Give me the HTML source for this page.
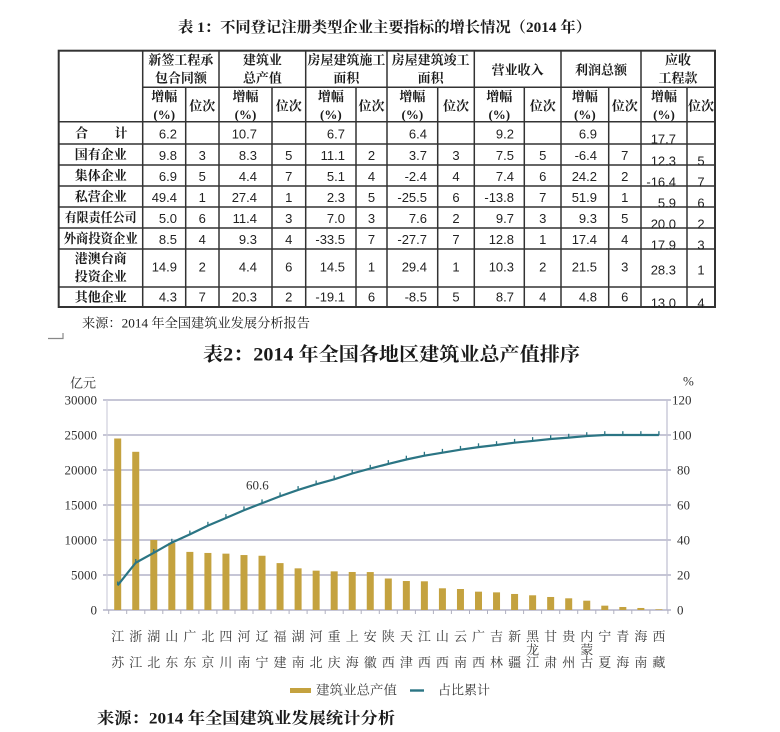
<!DOCTYPE html>
<html><head><meta charset="utf-8"><style>
html,body{margin:0;padding:0;background:#fff;}
svg{display:block;}
.h{font-family:"Liberation Serif","Noto Serif CJK SC",serif;font-weight:700;font-size:13px;fill:#1a1a1a;}
.d{font-family:"Liberation Sans","Noto Sans CJK SC",sans-serif;font-size:13px;fill:#222;}
.t{font-family:"Liberation Serif","Noto Serif CJK SC",serif;font-weight:700;fill:#1a1a1a;}
.ax{font-family:"Liberation Serif","Noto Serif CJK SC",serif;font-size:13px;fill:#333;}
.xl{font-family:"Liberation Serif","Noto Serif CJK SC",serif;font-size:13px;fill:#3a3a3a;}
</style></head><body>
<svg width="780" height="732" viewBox="0 0 780 732" xmlns="http://www.w3.org/2000/svg">
<rect width="780" height="732" fill="#fff"/>
<text class="t" x="178" y="28" font-size="15" dominant-baseline="central" textLength="413" lengthAdjust="spacingAndGlyphs">表 1：不同登记注册类型企业主要指标的增长情况（2014 年）</text>
<g stroke="#333" stroke-width="1.5" fill="none">
<rect x="58.7" y="50.7" width="656.3" height="256.3" stroke-width="2"/>
<line x1="142.7" y1="87.3" x2="715" y2="87.3"/>
<line x1="58.7" y1="121.7" x2="715" y2="121.7"/>
<line x1="58.7" y1="144" x2="715" y2="144"/>
<line x1="58.7" y1="165" x2="715" y2="165"/>
<line x1="58.7" y1="186" x2="715" y2="186"/>
<line x1="58.7" y1="207" x2="715" y2="207"/>
<line x1="58.7" y1="228" x2="715" y2="228"/>
<line x1="58.7" y1="249" x2="715" y2="249"/>
<line x1="58.7" y1="287" x2="715" y2="287"/>
<line x1="142.7" y1="50.7" x2="142.7" y2="307"/>
<line x1="219" y1="50.7" x2="219" y2="307"/>
<line x1="305.7" y1="50.7" x2="305.7" y2="307"/>
<line x1="387" y1="50.7" x2="387" y2="307"/>
<line x1="474.3" y1="50.7" x2="474.3" y2="307"/>
<line x1="561" y1="50.7" x2="561" y2="307"/>
<line x1="641" y1="50.7" x2="641" y2="307"/>
<line x1="185.7" y1="87.3" x2="185.7" y2="307"/>
<line x1="272" y1="87.3" x2="272" y2="307"/>
<line x1="356" y1="87.3" x2="356" y2="307"/>
<line x1="437.7" y1="87.3" x2="437.7" y2="307"/>
<line x1="524.3" y1="87.3" x2="524.3" y2="307"/>
<line x1="608.7" y1="87.3" x2="608.7" y2="307"/>
<line x1="687" y1="87.3" x2="687" y2="307"/>
</g>
<g class="h" text-anchor="middle" dominant-baseline="central">
<text x="180.85" y="60">新签工程承</text><text x="180.85" y="78">包合同额</text>
<text x="262.35" y="60">建筑业</text><text x="262.35" y="78">总产值</text>
<text x="346.35" y="60">房屋建筑施工</text><text x="346.35" y="78">面积</text>
<text x="430.65" y="60">房屋建筑竣工</text><text x="430.65" y="78">面积</text>
<text x="517.65" y="70">营业收入</text>
<text x="601" y="70">利润总额</text>
<text x="678" y="60">应收</text><text x="678" y="78">工程款</text>
<text x="164.2" y="96.7">增幅</text><text x="164.2" y="114.3">(%)</text><text x="202.3" y="106">位次</text>
<text x="245.5" y="96.7">增幅</text><text x="245.5" y="114.3">(%)</text><text x="288.8" y="106">位次</text>
<text x="330.85" y="96.7">增幅</text><text x="330.85" y="114.3">(%)</text><text x="371.5" y="106">位次</text>
<text x="412.35" y="96.7">增幅</text><text x="412.35" y="114.3">(%)</text><text x="456" y="106">位次</text>
<text x="499.3" y="96.7">增幅</text><text x="499.3" y="114.3">(%)</text><text x="542.7" y="106">位次</text>
<text x="584.85" y="96.7">增幅</text><text x="584.85" y="114.3">(%)</text><text x="624.8" y="106">位次</text>
<text x="664" y="96.7">增幅</text><text x="664" y="114.3">(%)</text><text x="701" y="106">位次</text>
<text x="81.5" y="133">合</text><text x="121" y="133">计</text>
<text x="100.7" y="154.5">国有企业</text>
<text x="100.7" y="175.5">集体企业</text>
<text x="100.7" y="196.5">私营企业</text>
<text x="100.7" y="217.5" textLength="72" lengthAdjust="spacingAndGlyphs">有限责任公司</text>
<text x="100.7" y="238.5" textLength="74" lengthAdjust="spacingAndGlyphs">外商投资企业</text>
<text x="100.7" y="258.3">港澳台商</text><text x="100.7" y="276.7">投资企业</text>
<text x="100.7" y="297">其他企业</text>
</g>
<g class="d" text-anchor="end" dominant-baseline="central">
<text x="177" y="134">6.2</text><text x="257" y="134">10.7</text><text x="345" y="134">6.7</text><text x="427" y="134">6.4</text><text x="514" y="134">9.2</text><text x="597" y="134">6.9</text><text x="676" y="139">17.7</text>
<text x="177" y="155.5">9.8</text><text x="257" y="155.5">8.3</text><text x="345" y="155.5">11.1</text><text x="427" y="155.5">3.7</text><text x="514" y="155.5">7.5</text><text x="597" y="155.5">-6.4</text><text x="676" y="161">12.3</text>
<text x="177" y="176.5">6.9</text><text x="257" y="176.5">4.4</text><text x="345" y="176.5">5.1</text><text x="427" y="176.5">-2.4</text><text x="514" y="176.5">7.4</text><text x="597" y="176.5">24.2</text><text x="676" y="182">-16.4</text>
<text x="177" y="197.5">49.4</text><text x="257" y="197.5">27.4</text><text x="345" y="197.5">2.3</text><text x="427" y="197.5">-25.5</text><text x="514" y="197.5">-13.8</text><text x="597" y="197.5">51.9</text><text x="676" y="203">5.9</text>
<text x="177" y="218.5">5.0</text><text x="257" y="218.5">11.4</text><text x="345" y="218.5">7.0</text><text x="427" y="218.5">7.6</text><text x="514" y="218.5">9.7</text><text x="597" y="218.5">9.3</text><text x="676" y="224">20.0</text>
<text x="177" y="239.5">8.5</text><text x="257" y="239.5">9.3</text><text x="345" y="239.5">-33.5</text><text x="427" y="239.5">-27.7</text><text x="514" y="239.5">12.8</text><text x="597" y="239.5">17.4</text><text x="676" y="245">17.9</text>
<text x="177" y="267">14.9</text><text x="257" y="267">4.4</text><text x="345" y="267">14.5</text><text x="427" y="267">29.4</text><text x="514" y="267">10.3</text><text x="597" y="267">21.5</text><text x="676" y="270">28.3</text>
<text x="177" y="297">4.3</text><text x="257" y="297">20.3</text><text x="345" y="297">-19.1</text><text x="427" y="297">-8.5</text><text x="514" y="297">8.7</text><text x="597" y="297">4.8</text><text x="676" y="303">13.0</text>
</g>
<g class="d" text-anchor="middle" dominant-baseline="central">
<text x="202.3" y="155.5">3</text><text x="288.8" y="155.5">5</text><text x="371.5" y="155.5">2</text><text x="456" y="155.5">3</text><text x="542.7" y="155.5">5</text><text x="624.8" y="155.5">7</text><text x="701" y="161">5</text>
<text x="202.3" y="176.5">5</text><text x="288.8" y="176.5">7</text><text x="371.5" y="176.5">4</text><text x="456" y="176.5">4</text><text x="542.7" y="176.5">6</text><text x="624.8" y="176.5">2</text><text x="701" y="182">7</text>
<text x="202.3" y="197.5">1</text><text x="288.8" y="197.5">1</text><text x="371.5" y="197.5">5</text><text x="456" y="197.5">6</text><text x="542.7" y="197.5">7</text><text x="624.8" y="197.5">1</text><text x="701" y="203">6</text>
<text x="202.3" y="218.5">6</text><text x="288.8" y="218.5">3</text><text x="371.5" y="218.5">3</text><text x="456" y="218.5">2</text><text x="542.7" y="218.5">3</text><text x="624.8" y="218.5">5</text><text x="701" y="224">2</text>
<text x="202.3" y="239.5">4</text><text x="288.8" y="239.5">4</text><text x="371.5" y="239.5">7</text><text x="456" y="239.5">7</text><text x="542.7" y="239.5">1</text><text x="624.8" y="239.5">4</text><text x="701" y="245">3</text>
<text x="202.3" y="267">2</text><text x="288.8" y="267">6</text><text x="371.5" y="267">1</text><text x="456" y="267">1</text><text x="542.7" y="267">2</text><text x="624.8" y="267">3</text><text x="701" y="270">1</text>
<text x="202.3" y="297">7</text><text x="288.8" y="297">2</text><text x="371.5" y="297">6</text><text x="456" y="297">5</text><text x="542.7" y="297">4</text><text x="624.8" y="297">6</text><text x="701" y="303">4</text>
</g>
<text class="t" x="82" y="323" font-size="13" style="font-weight:400" dominant-baseline="central" textLength="228" lengthAdjust="spacingAndGlyphs" fill="#333">来源：2014 年全国建筑业发展分析报告</text>
<path d="M48 338.5 H63 V333" stroke="#888" stroke-width="1.2" fill="none"/>
<text class="t" x="203" y="355" font-size="19" dominant-baseline="central" textLength="377" lengthAdjust="spacingAndGlyphs">表2：2014 年全国各地区建筑业总产值排序</text>
<text class="ax" x="70" y="383" dominant-baseline="central" fill="#444">亿元</text>
<text class="ax" x="683" y="381" dominant-baseline="central" fill="#444">%</text>
<g stroke="#b4b4c8" stroke-width="1.4">
<line x1="103" y1="400" x2="671" y2="400"/>
<line x1="103" y1="435" x2="671" y2="435"/>
<line x1="103" y1="470" x2="671" y2="470"/>
<line x1="103" y1="505" x2="671" y2="505"/>
<line x1="103" y1="540" x2="671" y2="540"/>
<line x1="103" y1="575" x2="671" y2="575"/>
</g>
<line x1="107" y1="400" x2="107" y2="610" stroke="#cfcfdc" stroke-width="1.2"/>
<line x1="667" y1="400" x2="667" y2="610" stroke="#c4c4d4" stroke-width="1.3"/>
<line x1="103" y1="610" x2="671" y2="610" stroke="#b4b4c8" stroke-width="1.4"/>
<g class="ax" text-anchor="end" dominant-baseline="central">
<text x="97" y="400">30000</text>
<text x="97" y="435">25000</text>
<text x="97" y="470">20000</text>
<text x="97" y="505">15000</text>
<text x="97" y="540">10000</text>
<text x="97" y="575">5000</text>
<text x="97" y="610">0</text>
</g>
<g class="ax" dominant-baseline="central">
<text x="672" y="400">120</text>
<text x="672" y="435">100</text>
<text x="677" y="470">80</text>
<text x="677" y="505">60</text>
<text x="677" y="540">40</text>
<text x="677" y="575">20</text>
<text x="677" y="610">0</text>
</g>
<g stroke="#b0b0c0" stroke-width="1">
<line x1="108.7" y1="610" x2="108.7" y2="614"/><line x1="126.7" y1="610" x2="126.7" y2="614"/><line x1="144.8" y1="610" x2="144.8" y2="614"/><line x1="162.8" y1="610" x2="162.8" y2="614"/><line x1="180.8" y1="610" x2="180.8" y2="614"/><line x1="198.9" y1="610" x2="198.9" y2="614"/><line x1="216.9" y1="610" x2="216.9" y2="614"/><line x1="235" y1="610" x2="235" y2="614"/><line x1="253" y1="610" x2="253" y2="614"/><line x1="271" y1="610" x2="271" y2="614"/><line x1="289.1" y1="610" x2="289.1" y2="614"/><line x1="307.1" y1="610" x2="307.1" y2="614"/><line x1="325.2" y1="610" x2="325.2" y2="614"/><line x1="343.2" y1="610" x2="343.2" y2="614"/><line x1="361.2" y1="610" x2="361.2" y2="614"/><line x1="379.3" y1="610" x2="379.3" y2="614"/><line x1="397.3" y1="610" x2="397.3" y2="614"/><line x1="415.4" y1="610" x2="415.4" y2="614"/><line x1="433.4" y1="610" x2="433.4" y2="614"/><line x1="451.4" y1="610" x2="451.4" y2="614"/><line x1="469.5" y1="610" x2="469.5" y2="614"/><line x1="487.5" y1="610" x2="487.5" y2="614"/><line x1="505.6" y1="610" x2="505.6" y2="614"/><line x1="523.6" y1="610" x2="523.6" y2="614"/><line x1="541.6" y1="610" x2="541.6" y2="614"/><line x1="559.7" y1="610" x2="559.7" y2="614"/><line x1="577.7" y1="610" x2="577.7" y2="614"/><line x1="595.8" y1="610" x2="595.8" y2="614"/><line x1="613.8" y1="610" x2="613.8" y2="614"/><line x1="631.8" y1="610" x2="631.8" y2="614"/><line x1="649.9" y1="610" x2="649.9" y2="614"/><line x1="667.9" y1="610" x2="667.9" y2="614"/>
</g>
<g fill="#c4a23f">
<rect x="114.2" y="438.5" width="7" height="171.5"/>
<rect x="132.24" y="451.8" width="7" height="158.2"/>
<rect x="150.28" y="540" width="7" height="70"/>
<rect x="168.32" y="542.8" width="7" height="67.2"/>
<rect x="186.36" y="551.9" width="7" height="58.1"/>
<rect x="204.4" y="552.95" width="7" height="57.05"/>
<rect x="222.44" y="553.65" width="7" height="56.35"/>
<rect x="240.48" y="555.05" width="7" height="54.95"/>
<rect x="258.52" y="555.75" width="7" height="54.25"/>
<rect x="276.56" y="563.1" width="7" height="46.9"/>
<rect x="294.6" y="568.35" width="7" height="41.65"/>
<rect x="312.64" y="570.66" width="7" height="39.34"/>
<rect x="330.68" y="571.36" width="7" height="38.64"/>
<rect x="348.72" y="571.99" width="7" height="38.01"/>
<rect x="366.76" y="572.06" width="7" height="37.94"/>
<rect x="384.8" y="578.5" width="7" height="31.5"/>
<rect x="402.84" y="581.02" width="7" height="28.98"/>
<rect x="420.88" y="581.3" width="7" height="28.7"/>
<rect x="438.92" y="588.3" width="7" height="21.7"/>
<rect x="456.96" y="589" width="7" height="21"/>
<rect x="475" y="591.66" width="7" height="18.34"/>
<rect x="493.04" y="592.36" width="7" height="17.64"/>
<rect x="511.08" y="593.97" width="7" height="16.03"/>
<rect x="529.12" y="595.3" width="7" height="14.7"/>
<rect x="547.16" y="596.98" width="7" height="13.02"/>
<rect x="565.2" y="598.31" width="7" height="11.69"/>
<rect x="583.24" y="600.69" width="7" height="9.31"/>
<rect x="601.28" y="605.66" width="7" height="4.34"/>
<rect x="619.32" y="606.99" width="7" height="3.01"/>
<rect x="637.36" y="607.97" width="7" height="2.03"/>
<rect x="655.4" y="609.3" width="7" height="0.7"/>
</g>
<polyline fill="none" stroke="#2b7584" stroke-width="2.2" stroke-linejoin="round" points="117.7,585.3 135.74,562.75 153.78,552.8 171.82,542.6 189.86,534.4 207.9,525.65 225.94,517.95 243.98,510.25 262.02,503.25 280.06,496.25 298.1,489.95 316.14,484.35 334.18,479.3 352.22,473.5 370.26,468.6 388.3,463.9 406.34,459.5 424.38,455.65 442.42,452.7 460.46,449.7 478.5,447.1 496.54,445 514.58,442.7 532.62,440.95 550.66,439 568.7,437.6 586.74,436.05 604.78,435 622.82,435 640.86,435 658.9,435"/>
<g stroke="#2b7584" stroke-width="1.3">
<line x1="117.7" y1="585.3" x2="117.7" y2="581.5"/><line x1="135.74" y1="562.75" x2="135.74" y2="559"/><line x1="153.78" y1="552.8" x2="153.78" y2="549"/><line x1="171.82" y1="542.6" x2="171.82" y2="538.8"/><line x1="189.86" y1="534.4" x2="189.86" y2="530.6"/><line x1="207.9" y1="525.65" x2="207.9" y2="521.8"/><line x1="225.94" y1="517.95" x2="225.94" y2="514.1"/><line x1="243.98" y1="510.25" x2="243.98" y2="506.4"/><line x1="262.02" y1="503.25" x2="262.02" y2="499.4"/><line x1="280.06" y1="496.25" x2="280.06" y2="492.4"/><line x1="298.1" y1="489.95" x2="298.1" y2="486.1"/><line x1="316.14" y1="484.35" x2="316.14" y2="480.5"/><line x1="334.18" y1="479.3" x2="334.18" y2="475.5"/><line x1="352.22" y1="473.5" x2="352.22" y2="469.7"/><line x1="370.26" y1="468.6" x2="370.26" y2="464.8"/><line x1="388.3" y1="463.9" x2="388.3" y2="460.1"/><line x1="406.34" y1="459.5" x2="406.34" y2="455.7"/><line x1="424.38" y1="455.65" x2="424.38" y2="451.8"/><line x1="442.42" y1="452.7" x2="442.42" y2="448.9"/><line x1="460.46" y1="449.7" x2="460.46" y2="445.9"/><line x1="478.5" y1="447.1" x2="478.5" y2="443.3"/><line x1="496.54" y1="445" x2="496.54" y2="441.2"/><line x1="514.58" y1="442.7" x2="514.58" y2="438.9"/><line x1="532.62" y1="440.95" x2="532.62" y2="437.1"/><line x1="550.66" y1="439" x2="550.66" y2="435.2"/><line x1="568.7" y1="437.6" x2="568.7" y2="433.8"/><line x1="586.74" y1="436.05" x2="586.74" y2="432.2"/><line x1="604.78" y1="435" x2="604.78" y2="431.2"/><line x1="622.82" y1="435" x2="622.82" y2="431.2"/><line x1="640.86" y1="435" x2="640.86" y2="431.2"/><line x1="658.9" y1="435" x2="658.9" y2="431.2"/>
</g>
<text class="ax" x="246" y="485" font-size="14" dominant-baseline="central">60.6</text>
<g class="xl" text-anchor="middle" dominant-baseline="central">
<text x="117.7" y="636.7">江</text><text x="117.7" y="662.7">苏</text>
<text x="135.74" y="636.7">浙</text><text x="135.74" y="662.7">江</text>
<text x="153.78" y="636.7">湖</text><text x="153.78" y="662.7">北</text>
<text x="171.82" y="636.7">山</text><text x="171.82" y="662.7">东</text>
<text x="189.86" y="636.7">广</text><text x="189.86" y="662.7">东</text>
<text x="207.9" y="636.7">北</text><text x="207.9" y="662.7">京</text>
<text x="225.94" y="636.7">四</text><text x="225.94" y="662.7">川</text>
<text x="243.98" y="636.7">河</text><text x="243.98" y="662.7">南</text>
<text x="262.02" y="636.7">辽</text><text x="262.02" y="662.7">宁</text>
<text x="280.06" y="636.7">福</text><text x="280.06" y="662.7">建</text>
<text x="298.1" y="636.7">湖</text><text x="298.1" y="662.7">南</text>
<text x="316.14" y="636.7">河</text><text x="316.14" y="662.7">北</text>
<text x="334.18" y="636.7">重</text><text x="334.18" y="662.7">庆</text>
<text x="352.22" y="636.7">上</text><text x="352.22" y="662.7">海</text>
<text x="370.26" y="636.7">安</text><text x="370.26" y="662.7">徽</text>
<text x="388.3" y="636.7">陕</text><text x="388.3" y="662.7">西</text>
<text x="406.34" y="636.7">天</text><text x="406.34" y="662.7">津</text>
<text x="424.38" y="636.7">江</text><text x="424.38" y="662.7">西</text>
<text x="442.42" y="636.7">山</text><text x="442.42" y="662.7">西</text>
<text x="460.46" y="636.7">云</text><text x="460.46" y="662.7">南</text>
<text x="478.5" y="636.7">广</text><text x="478.5" y="662.7">西</text>
<text x="496.54" y="636.7">吉</text><text x="496.54" y="662.7">林</text>
<text x="514.58" y="636.7">新</text><text x="514.58" y="662.7">疆</text>
<text x="532.62" y="636.7">黑</text><text x="532.62" y="650">龙</text><text x="532.62" y="662.7">江</text>
<text x="550.66" y="636.7">甘</text><text x="550.66" y="662.7">肃</text>
<text x="568.7" y="636.7">贵</text><text x="568.7" y="662.7">州</text>
<text x="586.74" y="636.7">内</text><text x="586.74" y="650">蒙</text><text x="586.74" y="662.7">古</text>
<text x="604.78" y="636.7">宁</text><text x="604.78" y="662.7">夏</text>
<text x="622.82" y="636.7">青</text><text x="622.82" y="662.7">海</text>
<text x="640.86" y="636.7">海</text><text x="640.86" y="662.7">南</text>
<text x="658.9" y="636.7">西</text><text x="658.9" y="662.7">藏</text>
</g>
<rect x="290" y="688" width="21" height="5" fill="#c4a23f"/>
<text class="xl" x="316" y="690" dominant-baseline="central" textLength="81" lengthAdjust="spacingAndGlyphs">建筑业总产值</text>
<line x1="410" y1="690.5" x2="424" y2="690.5" stroke="#2b7584" stroke-width="2.4"/>
<text class="xl" x="438" y="690" dominant-baseline="central" textLength="52" lengthAdjust="spacingAndGlyphs">占比累计</text>
<text class="t" x="97" y="719" font-size="16" dominant-baseline="central" textLength="298" lengthAdjust="spacingAndGlyphs">来源：2014 年全国建筑业发展统计分析</text>
</svg>
</body></html>
